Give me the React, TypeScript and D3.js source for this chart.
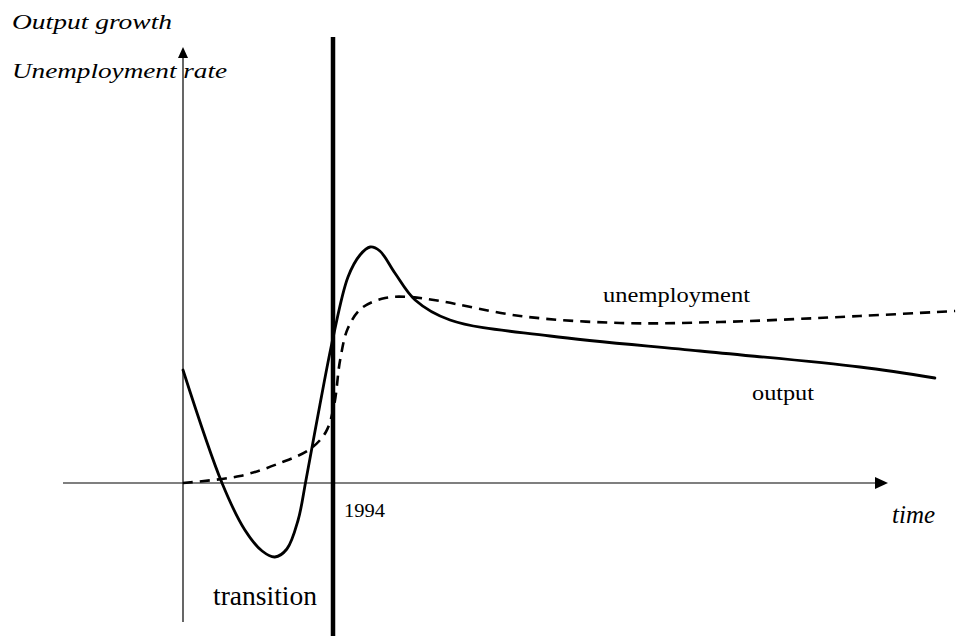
import React from "react";
import * as d3 from "d3";

// years (x) and index values (y)
const outputYears = [1990.0, 1991.04, 1991.65, 1992.11, 1992.45, 1992.77, 1993.07, 1993.28, 1993.65, 1994.0, 1994.4, 1994.72, 1994.99, 1995.25, 1995.65, 1996.19, 1997.12, 1999.79, 2003.79, 2008.05, 2010.05];
const outputValues = [11.3, 0.0, -4.7, -6.8, -7.4, -6.6, -3.7, 0.3, 7.8, 14.5, 20.6, 22.8, 23.6, 23.2, 21.0, 18.3, 16.3, 14.7, 13.2, 11.6, 10.5];

const unempYears = [1990.0, 1991.52, 1992.59, 1993.39, 1993.81, 1994.03, 1994.19, 1994.4, 1994.77, 1995.39, 1996.05, 1996.85, 1998.99, 2001.65, 2004.32, 2008.05, 2010.59];
const unempValues = [0, 0.7, 2.0, 3.4, 5.1, 7.8, 12.3, 15.5, 17.5, 18.5, 18.6, 18.2, 16.7, 16.0, 16.1, 16.7, 17.2];

const markerYear = 1994;
const timeAxisRange = [1986.8, 2008.8];
const valueAxisRange = [-13.9, 43.6];
const markerLineRange = [-15.3, 44.6];

const W = 959;
const H = 639;
const font = "'Liberation Serif', 'Times New Roman', serif";

export default function App() {
  const x = d3.scaleLinear().domain([1990, 2010]).range([183, 933]);
  const y = d3.scaleLinear().domain([0, 40]).range([483, 83]);

  const line = d3
    .line<[number, number]>()
    .x((d) => x(d[0]))
    .y((d) => y(d[1]))
    .curve(d3.curveCatmullRom.alpha(0.5));

  const outputPts = outputYears.map((t, i) => [t, outputValues[i]] as [number, number]);
  const unempPts = unempYears.map((t, i) => [t, unempValues[i]] as [number, number]);

  const hx1 = x(timeAxisRange[1]);
  const vy1 = y(valueAxisRange[1]);

  return (
    <svg
      width={W}
      height={H}
      style={{ position: "absolute", left: 0, top: 0, display: "block", background: "#fff" }}
    >
      {/* horizontal axis */}
      <line x1={x(timeAxisRange[0])} x2={hx1 - 10} y1={y(0)} y2={y(0)} stroke="#000" strokeWidth={1.2} />
      <path d={`M${hx1},${y(0)} L${hx1 - 13},${y(0) - 6} L${hx1 - 13},${y(0) + 6} Z`} fill="#000" />

      {/* vertical axis */}
      <line x1={x(1990)} x2={x(1990)} y1={y(valueAxisRange[0])} y2={vy1 + 8} stroke="#000" strokeWidth={1.2} />
      <path d={`M${x(1990)},${vy1} L${x(1990) - 5},${vy1 + 11} L${x(1990) + 5},${vy1 + 11} Z`} fill="#000" />

      {/* 1994 marker */}
      <line
        x1={x(markerYear)}
        x2={x(markerYear)}
        y1={y(markerLineRange[0])}
        y2={y(markerLineRange[1])}
        stroke="#000"
        strokeWidth={4.5}
      />

      <path d={line(unempPts) ?? ""} fill="none" stroke="#000" strokeWidth={2.6} strokeDasharray="10,7" />
      <path d={line(outputPts) ?? ""} fill="none" stroke="#000" strokeWidth={2.8} strokeLinecap="round" />

      <g fontFamily={font} fill="#000">
        <text x={12} y={29} fontSize={20} fontStyle="italic" textLength={160} lengthAdjust="spacingAndGlyphs">
          Output growth
        </text>
        <text x={12} y={78} fontSize={20} fontStyle="italic" textLength={215} lengthAdjust="spacingAndGlyphs">
          Unemployment rate
        </text>
        <text x={603} y={302} fontSize={22} textLength={147} lengthAdjust="spacingAndGlyphs">
          unemployment
        </text>
        <text x={752} y={400} fontSize={22} textLength={62} lengthAdjust="spacingAndGlyphs">
          output
        </text>
        <text x={344} y={517} fontSize={19} textLength={41} lengthAdjust="spacingAndGlyphs">
          1994
        </text>
        <text x={892} y={523} fontSize={25} fontStyle="italic" textLength={43} lengthAdjust="spacingAndGlyphs">
          time
        </text>
        <text x={213} y={605} fontSize={27} textLength={104} lengthAdjust="spacingAndGlyphs">
          transition
        </text>
      </g>
    </svg>
  );
}
